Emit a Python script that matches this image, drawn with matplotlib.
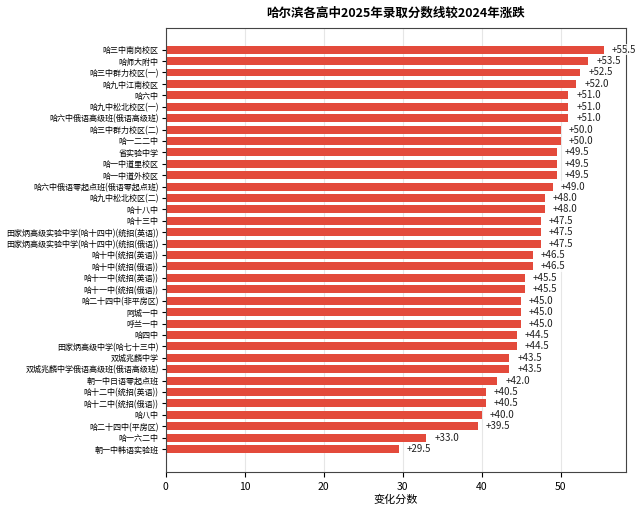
import matplotlib
matplotlib.use("Agg")
import matplotlib.pyplot as plt

plt.rcParams['font.family'] = ['Noto Sans CJK SC', 'DejaVu Sans']

schools = [
    '哈三中南岗校区', '哈师大附中', '哈三中群力校区(一)', '哈九中江南校区', '哈六中',
    '哈九中松北校区(一)', '哈六中俄语高级班(俄语高级班)', '哈三中群力校区(二)', '哈一二二中',
    '省实验中学', '哈一中道里校区', '哈一中道外校区', '哈六中俄语零起点班(俄语零起点班)',
    '哈九中松北校区(二)', '哈十八中', '哈十三中',
    '田家炳高级实验中学(哈十四中)(统招(英语))', '田家炳高级实验中学(哈十四中)(统招(俄语))',
    '哈十中(统招(英语))', '哈十中(统招(俄语))', '哈十一中(统招(英语))', '哈十一中(统招(俄语))',
    '哈二十四中(非平房区)', '阿城一中', '呼兰一中', '哈四中', '田家炳高级中学(哈七十三中)',
    '双城兆麟中学', '双城兆麟中学俄语高级班(俄语高级班)', '朝一中日语零起点班',
    '哈十二中(统招(英语))', '哈十二中(统招(俄语))', '哈八中', '哈二十四中(平房区)',
    '哈一六二中', '朝一中韩语实验班',
]
changes = [
    55.5, 53.5, 52.5, 52.0, 51.0, 51.0, 51.0, 50.0, 50.0, 49.5, 49.5, 49.5, 49.0,
    48.0, 48.0, 47.5, 47.5, 47.5, 46.5, 46.5, 45.5, 45.5, 45.0, 45.0, 45.0, 44.5,
    44.5, 43.5, 43.5, 42.0, 40.5, 40.5, 40.0, 39.5, 33.0, 29.5,
]

fig = plt.figure(figsize=(6.4, 5.09), dpi=100)
ax = fig.add_axes([0.259, 0.073, 0.719, 0.872])

ypos = list(range(len(schools)))
ax.barh(ypos, changes, height=0.7, color='#e34a3b', zorder=2)
for y, v in zip(ypos, changes):
    ax.text(v + 1.0, y, '+%.1f' % v, ha='left', va='center', fontsize=7,
            color='#222222', zorder=3,
            bbox=dict(facecolor='white', edgecolor='none', alpha=0.8, pad=0.5))

ax.set_yticks(ypos)
ax.set_yticklabels(schools, fontsize=5.8)
ax.tick_params(axis='y', pad=2, length=3)
ax.set_ylim(len(schools) - 1 + 2.0, -1.9)
ax.set_xlim(0, max(changes) * 1.05)
ax.set_xticks([0, 10, 20, 30, 40, 50])
ax.tick_params(axis='x', labelsize=7.5)
ax.grid(axis='x', color='#e6e6e6', linewidth=0.8, zorder=0)
ax.set_axisbelow(True)
for s in ax.spines.values():
    s.set_color('#444444')
ax.set_xlabel('变化分数', fontsize=8, labelpad=2)
ax.set_title('哈尔滨各高中2025年录取分数线较2024年涨跌', fontsize=9, fontweight='bold', pad=8)

fig.savefig('out.png', dpi=100)
